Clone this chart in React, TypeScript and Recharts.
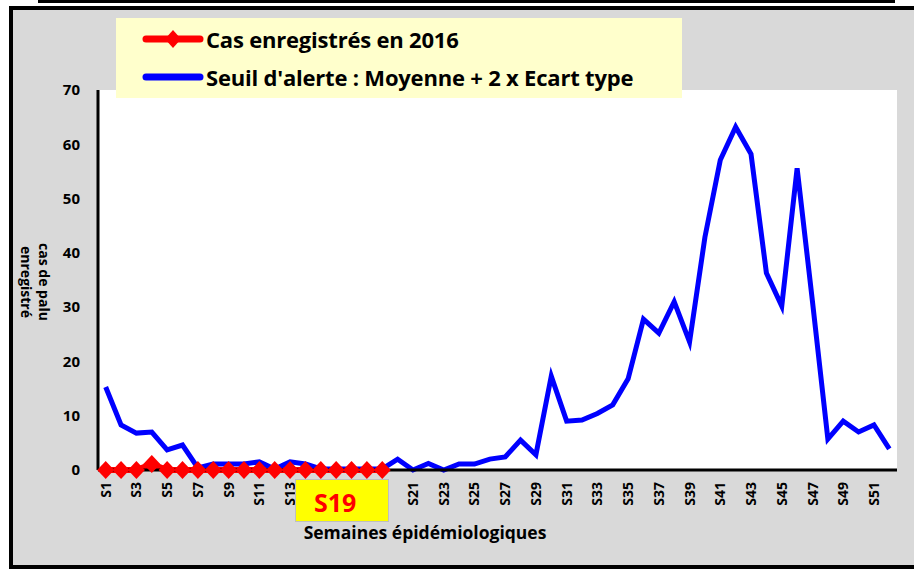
import { ComposedChart, Line, XAxis, YAxis, CartesianGrid, Legend, Label } from "recharts";

const weeks = [
  "S1", "S2", "S3", "S4", "S5", "S6", "S7", "S8", "S9", "S10",
  "S11", "S12", "S13", "S14", "S15", "S16", "S17", "S18", "S19", "S20",
  "S21", "S22", "S23", "S24", "S25", "S26", "S27", "S28", "S29", "S30",
  "S31", "S32", "S33", "S34", "S35", "S36", "S37", "S38", "S39", "S40",
  "S41", "S42", "S43", "S44", "S45", "S46", "S47", "S48", "S49", "S50",
  "S51", "S52",
];

// cas enregistrés en 2016 (jusqu'à S19)
const cases2016 = [0, 0, 0, 1.1, 0, 0, 0, 0, 0, 0, 0, 0, 0, 0, 0, 0, 0, 0, 0];

// seuil d'alerte : moyenne + 2 x écart type
const alertThreshold = [
  15.3, 8.3, 6.8, 7.0, 3.7, 4.6, 0.4, 1.1, 1.1, 1.1,
  1.5, 0.2, 1.5, 1.1, 0.2, 0.2, 0.2, 0.2, 0.2, 2.0,
  0, 1.2, 0, 1.1, 1.1, 2.0, 2.4, 5.5, 2.8, 17.3,
  9.0, 9.2, 10.4, 12.0, 16.8, 27.8, 25.2, 31.0, 23.6, 42.9,
  57.1, 63.2, 58.2, 36.3, 30.2, 55.6, 31.0, 5.7, 9.0, 7.0,
  8.3, 3.9,
];

const yTicks = [0, 10, 20, 30, 40, 50, 60, 70];

const data = weeks.map((week, i) => ({
  week,
  cas: i < cases2016.length ? cases2016[i] : null,
  seuil: alertThreshold[i],
}));

const FONT = "'Open Sans', sans-serif";

function Diamond(props: any) {
  const { cx, cy, index } = props;
  if (cx == null || cy == null) return <g key={index} />;
  return (
    <polygon
      key={index}
      points={`${cx},${cy - 9} ${cx + 8.5},${cy} ${cx},${cy + 9} ${cx - 8.5},${cy}`}
      fill="#ff0000"
    />
  );
}

function WeekTick({ x, y, payload }: any) {
  return (
    <g transform={`translate(${x},${y})`}>
      <text
        transform="rotate(-90)"
        x={-12}
        y={0}
        dy="0.36em"
        textAnchor="end"
        fontFamily={FONT}
        fontSize={14}
        fontWeight={700}
        fill="#000"
      >
        {payload.value}
      </text>
    </g>
  );
}

function LegendBox() {
  const row = { display: "flex", alignItems: "center", height: 38 } as const;
  const text = { fontFamily: FONT, fontWeight: 700, fontSize: 22, color: "#000", letterSpacing: -0.2, marginLeft: 2 };
  return (
    <div style={{ background: "#ffffcc", width: 566, height: 80, padding: "2px 0 0 26px", boxSizing: "border-box" }}>
      <div style={row}>
        <svg width={62} height={20}>
          <line x1={4} y1={10} x2={58} y2={10} stroke="#ff0000" strokeWidth={7} strokeLinecap="round" />
          <polygon points="31,1 39,10 31,19 23,10" fill="#ff0000" />
        </svg>
        <span style={text}>Cas enregistrés en 2016</span>
      </div>
      <div style={row}>
        <svg width={62} height={20}>
          <line x1={4} y1={10} x2={58} y2={10} stroke="#0000ff" strokeWidth={7} strokeLinecap="round" />
        </svg>
        <span style={text}>Seuil d'alerte : Moyenne + 2 x Ecart type</span>
      </div>
    </div>
  );
}

export default function App() {
  return (
    <div style={{ position: "absolute", left: 0, top: 0, width: 914, height: 571, background: "#fff", overflow: "hidden" }}>
      <div style={{ position: "absolute", left: 38, top: 0, width: 857, height: 3, background: "#000" }} />
      <div
        style={{
          position: "absolute",
          left: 9,
          top: 6,
          width: 920,
          height: 563,
          boxSizing: "border-box",
          border: "4px solid #000",
          background: "#d9d9d9",
        }}
      />
      <div style={{ position: "absolute", left: 0, top: 0 }}>
        <ComposedChart width={914} height={571} data={data} margin={{ top: 90, right: 17, bottom: 71, left: 38 }}>
          <CartesianGrid horizontal={false} vertical={false} fill="#ffffff" fillOpacity={1} />
          <XAxis
            dataKey="week"
            scale="band"
            interval={1}
            height={30}
            tickSize={0}
            tickMargin={0}
            tickLine={false}
            axisLine={{ stroke: "#000", strokeWidth: 3 }}
            tick={<WeekTick />}
          >
            <Label
              content={() => (
                <text x={425} y={539} textAnchor="middle" fontFamily={FONT} fontSize={17.5} fontWeight={700} fill="#000">
                  Semaines épidémiologiques
                </text>
              )}
            />
          </XAxis>
          <YAxis
            width={60}
            domain={[0, 70]}
            ticks={yTicks}
            tickLine={false}
            tickSize={8}
            tickMargin={10}
            axisLine={{ stroke: "#000", strokeWidth: 3 }}
            tick={{ fill: "#000", fontSize: 15, fontWeight: 700, fontFamily: FONT }}
          >
            <Label
              content={() => (
                <g transform="translate(39,282) rotate(90)">
                  <text textAnchor="middle" fontFamily={FONT} fontSize={14} fontWeight={700} fill="#000">
                    <tspan x={0} y={0}>cas de palu</tspan>
                    <tspan x={0} y={18}>enregistré</tspan>
                  </text>
                </g>
              )}
            />
          </YAxis>
          <Legend
            layout="horizontal"
            verticalAlign="middle"
            align="center"
            content={() => <LegendBox />}
            wrapperStyle={{ top: 18, left: 116, width: 566, height: 80 }}
          />
          <Line
            dataKey="cas"
            stroke="#ff0000"
            strokeWidth={6}
            dot={<Diamond />}
            activeDot={false}
            isAnimationActive={false}
          />
          <Line
            dataKey="seuil"
            stroke="#0000ff"
            strokeWidth={5}
            dot={false}
            activeDot={false}
            isAnimationActive={false}
          />
        </ComposedChart>
      </div>
      <div
        style={{
          position: "absolute",
          left: 295,
          top: 479,
          width: 94,
          height: 43,
          boxSizing: "border-box",
          background: "#ffff00",
          border: "1px solid #bfbfbf",
          fontFamily: FONT,
          fontWeight: 700,
          fontSize: 25,
          color: "#ff0000",
          paddingLeft: 18,
          lineHeight: "45px",
        }}
      >
        S19
      </div>
    </div>
  );
}
